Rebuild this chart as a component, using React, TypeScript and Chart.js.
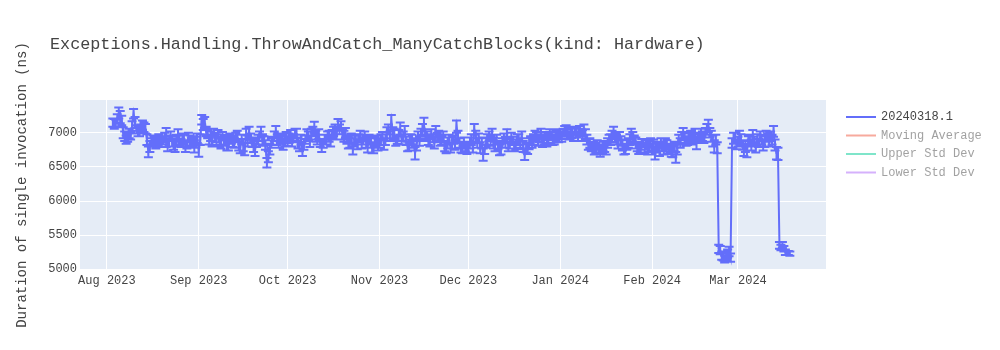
import React, { useEffect, useRef } from "react";
import { Chart, registerables } from "chart.js";

Chart.register(...registerables);

const FONT = '"Courier New", "Liberation Mono", monospace';
const TEXT_COLOR = "#444";

const chartTitle = "Exceptions.Handling.ThrowAndCatch_ManyCatchBlocks(kind: Hardware)";
const yAxisTitle = "Duration of single invocation (ns)";

const legendNames = ["20240318.1", "Moving Average", "Upper Std Dev", "Lower Std Dev"];
const legendColors = ["#636efa", "#EF553B", "#00cc96", "#ab63fa"];
const legendVisible = [true, false, false, false];

const xRange = ["2023-07-22T22:00:00Z", "2024-03-30T17:00:00Z"];
const monthTickDates = [
  "2023-08-01", "2023-09-01", "2023-10-01", "2023-11-01",
  "2023-12-01", "2024-01-01", "2024-02-01", "2024-03-01",
];
const monthTickLabels = [
  "Aug 2023", "Sep 2023", "Oct 2023", "Nov 2023",
  "Dec 2023", "Jan 2024", "Feb 2024", "Mar 2024",
];
const yRange = [4990, 7480];
const yTicks = [5000, 5500, 6000, 6500, 7000];

// Benchmark days; each day has a morning and an afternoon run
const runDates = [
  "2023-08-03", "2023-08-04", "2023-08-05", "2023-08-06", "2023-08-07", "2023-08-08", "2023-08-09", "2023-08-10",
  "2023-08-11", "2023-08-12", "2023-08-13", "2023-08-14", "2023-08-15", "2023-08-16", "2023-08-17", "2023-08-18",
  "2023-08-19", "2023-08-20", "2023-08-21", "2023-08-22", "2023-08-23", "2023-08-24", "2023-08-25", "2023-08-26",
  "2023-08-27", "2023-08-28", "2023-08-29", "2023-08-30", "2023-08-31",
  "2023-09-01", "2023-09-02", "2023-09-03", "2023-09-04", "2023-09-05", "2023-09-06", "2023-09-07", "2023-09-08",
  "2023-09-09", "2023-09-10", "2023-09-11", "2023-09-12", "2023-09-13", "2023-09-14", "2023-09-15", "2023-09-16",
  "2023-09-17", "2023-09-18", "2023-09-19", "2023-09-20", "2023-09-21", "2023-09-22", "2023-09-23", "2023-09-24",
  "2023-09-25", "2023-09-26", "2023-09-27", "2023-09-28", "2023-09-29", "2023-09-30",
  "2023-10-01", "2023-10-02", "2023-10-03", "2023-10-04", "2023-10-05", "2023-10-06", "2023-10-07", "2023-10-08",
  "2023-10-09", "2023-10-10", "2023-10-11", "2023-10-12", "2023-10-13", "2023-10-14", "2023-10-15", "2023-10-16",
  "2023-10-17", "2023-10-18", "2023-10-19", "2023-10-20", "2023-10-21", "2023-10-22", "2023-10-23", "2023-10-24",
  "2023-10-25", "2023-10-26", "2023-10-27", "2023-10-28", "2023-10-29", "2023-10-30", "2023-10-31",
  "2023-11-01", "2023-11-02", "2023-11-03", "2023-11-04", "2023-11-05", "2023-11-06", "2023-11-07", "2023-11-08",
  "2023-11-09", "2023-11-10", "2023-11-11", "2023-11-12", "2023-11-13", "2023-11-14", "2023-11-15", "2023-11-16",
  "2023-11-17", "2023-11-18", "2023-11-19", "2023-11-20", "2023-11-21", "2023-11-22", "2023-11-23", "2023-11-24",
  "2023-11-25", "2023-11-26", "2023-11-27", "2023-11-28", "2023-11-29", "2023-11-30",
  "2023-12-01", "2023-12-02", "2023-12-03", "2023-12-04", "2023-12-05", "2023-12-06", "2023-12-07", "2023-12-08",
  "2023-12-09", "2023-12-10", "2023-12-11", "2023-12-12", "2023-12-13", "2023-12-14", "2023-12-15", "2023-12-16",
  "2023-12-17", "2023-12-18", "2023-12-19", "2023-12-20", "2023-12-21", "2023-12-22", "2023-12-23", "2023-12-24",
  "2023-12-25", "2023-12-26", "2023-12-27", "2023-12-28", "2023-12-29", "2023-12-30", "2023-12-31",
  "2024-01-01", "2024-01-02", "2024-01-03", "2024-01-04", "2024-01-05", "2024-01-06", "2024-01-07", "2024-01-08",
  "2024-01-09", "2024-01-10", "2024-01-11", "2024-01-12", "2024-01-13", "2024-01-14", "2024-01-15", "2024-01-16",
  "2024-01-17", "2024-01-18", "2024-01-19", "2024-01-20", "2024-01-21", "2024-01-22", "2024-01-23", "2024-01-24",
  "2024-01-25", "2024-01-26", "2024-01-27", "2024-01-28", "2024-01-29", "2024-01-30", "2024-01-31",
  "2024-02-01", "2024-02-02", "2024-02-03", "2024-02-04", "2024-02-05", "2024-02-06", "2024-02-07", "2024-02-08",
  "2024-02-09", "2024-02-10", "2024-02-11", "2024-02-12", "2024-02-13", "2024-02-14", "2024-02-15", "2024-02-16",
  "2024-02-17", "2024-02-18", "2024-02-19", "2024-02-20", "2024-02-21", "2024-02-22", "2024-02-23", "2024-02-24",
  "2024-02-25", "2024-02-26", "2024-02-27", "2024-02-28", "2024-02-29",
  "2024-03-01", "2024-03-02", "2024-03-03", "2024-03-04", "2024-03-05", "2024-03-06", "2024-03-07", "2024-03-08",
  "2024-03-09", "2024-03-10", "2024-03-11", "2024-03-12", "2024-03-13", "2024-03-14", "2024-03-15", "2024-03-16",
  "2024-03-17", "2024-03-18",
];
const morningRunTime = "T00:00:00Z";
const afternoonRunTime = "T12:00:00Z";

// Mean duration of the morning run (ns)
const morningDurations = [
  7150, 7140, 7290, 7180, 6950, 6930, 6960, 7280, 7050, 7010, 7110, 7060, 6720, 6870, 6880, 6860,
  6890, 6880, 6930, 6880, 6870, 6800, 6960, 6850, 6900, 6830, 6880, 6880, 6860,
  6740, 7190, 7150, 6980, 6950, 7000, 6900, 6870, 6950, 6880, 6830, 6900, 6850, 6950, 6780, 6820,
  6980, 7010, 6850, 6750, 6900, 7010, 6880, 6560, 6760, 6880, 7020, 6850, 6900, 6870,
  6880, 6960, 6920, 6970, 6800, 6750, 6900, 6950, 6980, 7080, 6900, 6850, 6830, 6900, 6950, 6980,
  7050, 7120, 7100, 6950, 6900, 6850, 6760, 6900, 6920, 6850, 6950, 6800, 6850, 6780, 6900,
  6850, 6950, 6900, 7050, 7170, 6980, 6900, 7060, 6950, 6880, 6820, 6900, 6700, 6950, 7000, 7120,
  6950, 6880, 6920, 7020, 6960, 6880, 6800, 6850, 6780, 6900, 7090, 6850, 6780, 6800,
  6780, 6900, 7050, 6850, 6780, 6680, 6850, 6950, 6980, 6800, 6820, 6760, 6920, 6980, 6850, 6880,
  6830, 6900, 6950, 6680, 6760, 6890, 6900, 6940, 6920, 6860, 6950, 6920, 6950, 6900, 6980,
  6980, 7000, 7040, 6960, 6990, 7030, 6950, 7000, 7040, 6900, 6850, 6800, 6780, 6750, 6760, 6800,
  6850, 6900, 7000, 6900, 6950, 6820, 6760, 6850, 6980, 6900, 6800, 6780, 6850, 6820, 6800,
  6760, 6700, 6800, 6850, 6760, 6820, 6780, 6720, 6640, 6900, 6950, 6920, 6880, 6960, 6940, 6850,
  6920, 6950, 7000, 7100, 6950, 6800, 6780, 5280, 5180, 5200, 5260, 6850, 6920,
  6870, 6900, 6750, 6720, 6900, 6950, 6780, 6850, 6900, 6870, 6930, 6950, 7020, 6700, 5350, 5360,
  5250, 5240,
];
const morningStdDevs = [
  60, 50, 80, 70, 70, 60, 60, 70, 60, 60, 70, 70, 80, 50, 50, 60,
  60, 50, 140, 80, 70, 80, 90, 60, 70, 60, 80, 70, 80,
  90, 70, 80, 60, 70, 60, 80, 70, 60, 70, 90, 60, 70, 80, 80, 90,
  80, 80, 60, 90, 70, 80, 70, 70, 80, 60, 80, 70, 60, 70,
  70, 80, 60, 90, 70, 90, 60, 70, 80, 80, 70, 60, 50, 70, 80, 60,
  70, 80, 70, 80, 60, 70, 80, 70, 60, 80, 70, 90, 70, 80, 60,
  70, 60, 80, 70, 90, 80, 60, 90, 70, 60, 80, 70, 90, 70, 60, 100,
  70, 80, 60, 80, 70, 60, 70, 80, 70, 60, 90, 70, 80, 70,
  70, 80, 80, 70, 80, 90, 70, 70, 80, 70, 60, 80, 70, 70, 80, 60,
  70, 80, 70, 80, 70, 60, 80, 70, 60, 70, 60, 70, 60, 70, 70,
  70, 60, 70, 60, 70, 60, 70, 60, 80, 70, 70, 60, 70, 60, 70, 80,
  70, 80, 90, 70, 60, 80, 70, 70, 80, 60, 70, 70, 60, 70, 80,
  80, 90, 70, 70, 80, 70, 60, 80, 80, 70, 60, 70, 60, 70, 60, 90,
  60, 70, 70, 90, 80, 90, 80, 60, 50, 60, 70, 70, 80,
  70, 80, 90, 80, 70, 90, 70, 60, 70, 80, 60, 70, 80, 90, 50, 40,
  40, 30,
];

// Mean duration of the afternoon run (ns)
const afternoonDurations = [
  7130, 7210, 7230, 7000, 6900, 6990, 7100, 7150, 7020, 7060, 7080, 6900, 6800, 6900, 6840, 6910,
  6850, 6930, 6820, 6950, 6830, 6900, 6880, 6920, 6800, 6930, 6850, 6800, 6920,
  6900, 7120, 7020, 6900, 6880, 6930, 6980, 6850, 6900, 6820, 6920, 6870, 6940, 6820, 6900, 6760,
  6880, 6920, 6800, 6860, 6950, 6900, 6820, 6650, 6850, 6950, 6900, 6920, 6830, 6940,
  6920, 6880, 6990, 6850, 6900, 6830, 6980, 6870, 7020, 6950, 6980, 6800, 6900, 6960, 6880, 7020,
  6980, 7050, 6980, 7000, 6850, 6920, 6880, 6830, 6950, 6900, 6860, 6900, 6780, 6880, 6820,
  6900, 6820, 7000, 6950, 7000, 6880, 6960, 6900, 7020, 6800, 6900, 6850, 6820, 6880, 7050, 6980,
  6900, 6980, 6850, 6930, 6890, 6950, 6780, 6900, 6850, 6820, 6950, 6780, 6850, 6760,
  6850, 6780, 6950, 6920, 6850, 6760, 6900, 6880, 6850, 6900, 6750, 6850, 6860, 6800, 6920, 6800,
  6900, 6850, 6800, 6780, 6840, 6850, 6950, 6880, 6980, 6900, 6880, 6980, 6900, 6960, 6940,
  6940, 7020, 6980, 7000, 6950, 7010, 7030, 6960, 6980, 6830, 6800, 6760, 6820, 6730, 6800, 6760,
  6900, 6950, 6930, 6850, 6880, 6760, 6820, 6900, 6940, 6850, 6760, 6830, 6780, 6760, 6850,
  6820, 6780, 6740, 6800, 6840, 6760, 6730, 6800, 6760, 6850, 6990, 6880, 6930, 6900, 6980, 6920,
  6980, 6920, 7050, 7000, 6880, 6900, 5300, 5200, 5150, 5230, 5170, 6920, 6830,
  6950, 6820, 6800, 6880, 6820, 6870, 6900, 6950, 6820, 6960, 6880, 6900, 6820, 6690, 5320, 5300,
  5240, 5230,
];
const afternoonStdDevs = [
  70, 60, 90, 80, 60, 70, 70, 80, 70, 60, 70, 80, 80, 60, 70, 70,
  60, 70, 90, 70, 80, 70, 80, 70, 80, 70, 70, 90, 70,
  80, 80, 70, 70, 80, 70, 60, 80, 70, 80, 70, 80, 60, 80, 70, 90,
  80, 70, 80, 70, 70, 80, 70, 80, 70, 70, 80, 70, 80, 70,
  70, 80, 70, 80, 70, 80, 70, 80, 70, 80, 70, 80, 70, 60, 80, 70,
  80, 70, 80, 70, 80, 70, 80, 70, 80, 70, 80, 70, 80, 70, 80,
  80, 70, 80, 70, 80, 70, 80, 70, 80, 70, 80, 70, 80, 70, 80, 70,
  80, 70, 80, 70, 80, 70, 80, 70, 80, 70, 80, 70, 80, 70,
  80, 70, 80, 70, 80, 70, 80, 70, 80, 70, 80, 70, 80, 70, 80, 70,
  80, 70, 80, 70, 80, 70, 80, 70, 80, 70, 80, 70, 80, 70, 80,
  70, 80, 70, 80, 70, 80, 70, 80, 70, 80, 70, 80, 70, 80, 70, 80,
  70, 80, 70, 80, 70, 80, 70, 80, 70, 80, 70, 80, 70, 80, 70,
  80, 70, 80, 70, 80, 70, 80, 70, 80, 70, 80, 70, 80, 70, 80, 70,
  80, 70, 80, 70, 80, 70, 60, 60, 50, 60, 60, 80, 70,
  80, 70, 80, 70, 80, 70, 80, 70, 80, 70, 80, 70, 80, 90, 40, 40,
  30, 30,
];

type Run = { x: number; y: number; err: number };

const toTime = (s: string) => Date.parse(s.length === 10 ? s + "T00:00:00Z" : s);

// Interleave morning and afternoon runs in time order
const runs: Run[] = [];
runDates.forEach((d, i) => {
  runs.push({ x: toTime(d + morningRunTime), y: morningDurations[i], err: morningStdDevs[i] });
  runs.push({ x: toTime(d + afternoonRunTime), y: afternoonDurations[i], err: afternoonStdDevs[i] });
});

const SERIES_COLOR = legendColors[0];
const CAP_HALF_WIDTH = 4.5;

const backgroundPlugin = {
  id: "plotBackground",
  beforeDraw(chart: any) {
    const { ctx, chartArea } = chart;
    ctx.save();
    ctx.fillStyle = "#ffffff";
    ctx.fillRect(0, 0, chart.width, chart.height);
    ctx.fillStyle = "#e5ecf6";
    ctx.fillRect(chartArea.left, chartArea.top, chartArea.right - chartArea.left, chartArea.bottom - chartArea.top);
    ctx.restore();
  },
};

const errorBarPlugin = {
  id: "errorBars",
  afterDatasetsDraw(chart: any) {
    const { ctx, chartArea, scales } = chart;
    const xs = scales.x;
    const ys = scales.y;
    ctx.save();
    ctx.beginPath();
    ctx.rect(chartArea.left, chartArea.top, chartArea.right - chartArea.left, chartArea.bottom - chartArea.top);
    ctx.clip();
    ctx.strokeStyle = SERIES_COLOR;
    ctx.lineWidth = 2;
    ctx.beginPath();
    runs.forEach((r) => {
      const px = xs.getPixelForValue(r.x);
      const top = ys.getPixelForValue(r.y + r.err);
      const bottom = ys.getPixelForValue(r.y - r.err);
      ctx.moveTo(px, top);
      ctx.lineTo(px, bottom);
      ctx.moveTo(px - CAP_HALF_WIDTH, top);
      ctx.lineTo(px + CAP_HALF_WIDTH, top);
      ctx.moveTo(px - CAP_HALF_WIDTH, bottom);
      ctx.lineTo(px + CAP_HALF_WIDTH, bottom);
    });
    ctx.stroke();
    ctx.restore();
  },
};

const textPlugin = {
  id: "titlesAndLegend",
  afterDraw(chart: any) {
    const { ctx, chartArea } = chart;
    ctx.save();
    // Chart title
    ctx.fillStyle = TEXT_COLOR;
    ctx.font = `16.8px ${FONT}`;
    ctx.textAlign = "left";
    ctx.textBaseline = "middle";
    ctx.fillText(chartTitle, 50, 45);

    // Y axis title
    ctx.save();
    ctx.translate(22, (chartArea.top + chartArea.bottom) / 2);
    ctx.rotate(-Math.PI / 2);
    ctx.font = `14px ${FONT}`;
    ctx.textAlign = "center";
    ctx.fillText(yAxisTitle, 0, 0);
    ctx.restore();

    // Legend
    ctx.font = `12px ${FONT}`;
    ctx.textAlign = "left";
    ctx.textBaseline = "middle";
    legendNames.forEach((name, i) => {
      const y = 117 + i * 18.5;
      ctx.globalAlpha = legendVisible[i] ? 1 : 0.5;
      ctx.strokeStyle = legendColors[i];
      ctx.lineWidth = 2;
      ctx.beginPath();
      ctx.moveTo(846, y);
      ctx.lineTo(876, y);
      ctx.stroke();
      ctx.fillStyle = TEXT_COLOR;
      ctx.fillText(name, 881, y);
    });
    ctx.restore();
  },
};

export default function App() {
  const canvasRef = useRef<HTMLCanvasElement | null>(null);

  useEffect(() => {
    const canvas = canvasRef.current;
    if (!canvas) return;
    const monthTickValues = monthTickDates.map(toTime);

    const chart = new Chart(canvas, {
      type: "line",
      data: {
        datasets: [
          {
            label: legendNames[0],
            data: runs.map((r) => ({ x: r.x, y: r.y })),
            borderColor: SERIES_COLOR,
            borderWidth: 2,
            pointRadius: 0,
            tension: 0,
            fill: false,
          },
        ],
      },
      options: {
        animation: false,
        responsive: false,
        maintainAspectRatio: false,
        layout: { padding: { top: 100, right: 174, bottom: 0, left: 0 } },
        plugins: {
          legend: { display: false },
          title: { display: false },
          tooltip: { enabled: false },
        },
        scales: {
          x: {
            type: "linear",
            min: toTime(xRange[0]),
            max: toTime(xRange[1]),
            afterFit: (s: any) => {
              s.height = 80;
            },
            afterBuildTicks: (s: any) => {
              s.ticks = monthTickValues.map((v) => ({ value: v }));
            },
            ticks: {
              autoSkip: false,
              maxRotation: 0,
              minRotation: 0,
              padding: 4,
              color: TEXT_COLOR,
              font: { family: FONT, size: 12 },
              callback: (v: any) => {
                const idx = monthTickValues.indexOf(Number(v));
                return idx >= 0 ? monthTickLabels[idx] : "";
              },
            },
            grid: { color: "#ffffff", lineWidth: 1, drawTicks: false },
            border: { display: false },
          },
          y: {
            type: "linear",
            min: yRange[0],
            max: yRange[1],
            afterFit: (s: any) => {
              s.width = 80;
            },
            afterBuildTicks: (s: any) => {
              s.ticks = yTicks.map((v) => ({ value: v }));
            },
            ticks: {
              padding: 3,
              color: TEXT_COLOR,
              font: { family: FONT, size: 12 },
              callback: (v: any) => String(v),
            },
            grid: { color: "#ffffff", lineWidth: 1, drawTicks: false },
            border: { display: false },
          },
        },
      },
      plugins: [backgroundPlugin, errorBarPlugin, textPlugin],
    });

    return () => chart.destroy();
  }, []);

  return (
    <div style={{ position: "absolute", left: 0, top: 0, width: 1000, height: 350 }}>
      <canvas ref={canvasRef} width={1000} height={350} style={{ width: 1000, height: 350 }} />
    </div>
  );
}
